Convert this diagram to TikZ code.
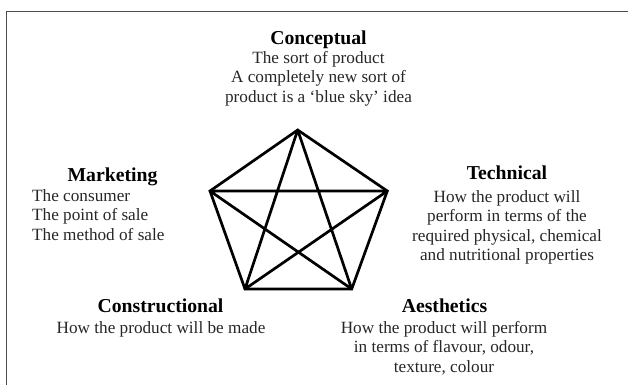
\documentclass[tikz,border=0pt]{standalone}
\usepackage{fontspec}
\setmainfont{Liberation Serif}
\begin{document}
\begin{tikzpicture}[x=1bp,y=-1bp,
  head/.style={font=\fontsize{19.7bp}{22bp}\selectfont\bfseries, text=black, inner sep=0pt, anchor=base},
  body/.style={font=\fontsize{17.2bp}{19.5bp}\selectfont, text=black!85, inner sep=0pt, anchor=base, align=center},
  edge/.style={line width=2.7bp, line join=miter, line cap=round, black},
  frame/.style={line width=1.3bp, black!70}]
\useasboundingbox (0,0) rectangle (628,385);
% frame
\coordinate (f1) at (628,11.7);
\coordinate (f2) at (6.7,11.7);
\coordinate (f3) at (6.7,385);
\draw[frame] (f1) -- (f2) -- (f3);
% pentagon vertices
\coordinate (T)  at (297.7,130);
\coordinate (L)  at (210,191);
\coordinate (R)  at (387.3,191);
\coordinate (BL) at (245,289);
\coordinate (BR) at (351.7,289);
\draw[edge] (T) -- (R) -- (BR) -- (BL) -- (L) -- cycle;
\draw[edge] (T) -- (BL) (T) -- (BR) (L) -- (R) (L) -- (BR) (R) -- (BL);
% texts (body nodes: base = baseline of last line)
\node[head] (concH) at (318.5,44) {Conceptual};
\node[body] (concB) at (318.5,102) {The sort of product\\A completely new sort of\\product is a `blue sky' idea};
\node[head] (markH) at (112.5,181) {Marketing};
\node[body, align=left, anchor=base west] (markB) at (32,240) {The consumer\\The point of sale\\The method of sale};
\node[head] (techH) at (507,179.5) {Technical};
\node[body] (techB) at (507,260.5) {How the product will\\perform in terms of the\\required physical, chemical\\and nutritional properties};
\node[head] (consH) at (160.5,312) {Constructional};
\node[body] (consB) at (161,333) {How the product will be made};
\node[head] (aesH) at (444.5,312) {Aesthetics};
\node[body] (aesB) at (444,372) {How the product will perform\\in terms of flavour, odour,\\texture, colour};
\end{tikzpicture}
\end{document}
